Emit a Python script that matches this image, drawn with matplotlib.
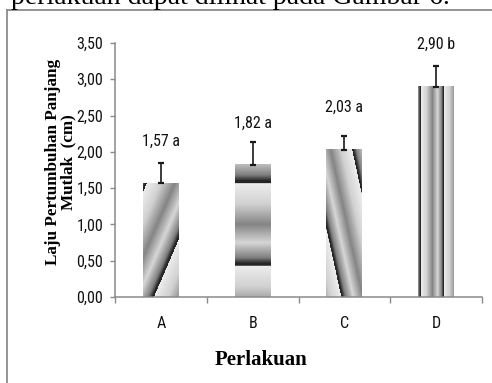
import numpy as np
import matplotlib
matplotlib.use('Agg')
import matplotlib.pyplot as plt
from matplotlib.lines import Line2D
from matplotlib.ticker import FuncFormatter

# data
perlakuan = ['A', 'B', 'C', 'D']
laju = [1.57, 1.82, 2.03, 2.90]
galat = [0.27, 0.31, 0.19, 0.28]
notasi = ['a', 'a', 'a', 'b']
y_ticks = [0.0, 0.5, 1.0, 1.5, 2.0, 2.5, 3.0, 3.5]

W, H = 492, 383
fig = plt.figure(figsize=(W / 100, H / 100), dpi=100)
ax = fig.add_axes([115 / W, 86 / H, 367 / W, 254 / H])

tick_font = ['Liberation Sans Narrow', 'Roboto Condensed', 'Liberation Sans']
serif_font = ['Liberation Serif', 'DejaVu Serif']

# gradient fill in the Excel "chrome" style
stops_t = [0.0, 0.25, 0.5, 0.72, 0.9, 0.97, 1.0]
stops_v = [0.93, 0.82, 0.52, 0.84, 0.5, 0.15, 0.15]
fills = [
    # kind, slope, line position (px), period (px)
    ('diag_r', 0.43, 4, 56),
    ('horiz', 0.0, 19, 82),
    ('diag_l', 0.22, 26, 43),
    ('vert', 0.0, 26, 23),
]

x = np.arange(len(perlakuan))
ax.set_xlim(-0.5, len(perlakuan) - 0.5)
ax.set_ylim(0, 3.5)
bars = ax.bar(x, laju, width=0.39, color='none', edgecolor='none', zorder=2)

for b, (kind, k, c0, per) in zip(bars, fills):
    left, right = b.get_x(), b.get_x() + b.get_width()
    h = b.get_height()
    (px0, py0), (px1, py1) = ax.transData.transform([(left, 0), (right, h)])
    nx, ny = max(int(round(px1 - px0)), 2), max(int(round(py1 - py0)), 2)
    xs, rs = np.meshgrid(np.arange(nx) + 0.5, np.arange(ny) + 0.5)
    if kind == 'diag_r':
        ph = ((xs + k * rs) - c0) / per
    elif kind == 'diag_l':
        ph = (c0 - (xs - k * rs)) / per
    elif kind == 'horiz':
        ph = (rs - c0) / per
    else:
        ph = (xs - c0) / per
    img = np.interp(np.mod(ph, 1.0), stops_t, stops_v)
    ax.imshow(img, cmap='gray', vmin=0, vmax=1, extent=(left, right, 0, h),
              origin='upper', aspect='auto', interpolation='bilinear', zorder=2)

ax.errorbar(x, laju, yerr=[np.zeros(len(galat)), galat], fmt='none',
            ecolor='#1a1a1a', elinewidth=1.2, capsize=2.3, capthick=1.6, zorder=3)

for xi, v, n in zip(x, laju, notasi):
    ax.annotate(f'{v:.2f}'.replace('.', ',') + ' ' + n, (xi, v),
                xytext=(0, 42), textcoords='offset pixels', ha='center', va='center',
                fontsize=11.5, family=tick_font, color='#111111')

ax.set_xlim(-0.5, len(perlakuan) - 0.5)
ax.set_ylim(0, 3.5)

for s in ['top', 'right']:
    ax.spines[s].set_visible(False)
for s in ['left', 'bottom']:
    ax.spines[s].set_color('#8a8a8a')
    ax.spines[s].set_linewidth(1.1)

ax.set_yticks(y_ticks)
ax.yaxis.set_major_formatter(FuncFormatter(lambda v, p: f'{v:.2f}'.replace('.', ',')))
ax.tick_params(axis='y', length=3.6, width=1.0, color='#8a8a8a', pad=5)
ax.set_xticks(x)
ax.set_xticklabels(perlakuan)
ax.set_xticks(np.arange(len(perlakuan) + 1) - 0.5, minor=True)
ax.tick_params(axis='x', which='major', length=0, pad=14)
ax.tick_params(axis='x', which='minor', length=4, width=1.0, color='#8a8a8a')
for lab in ax.get_xticklabels() + ax.get_yticklabels():
    lab.set_family(tick_font)
    lab.set_fontsize(11.5)
    lab.set_color('#111111')

fig.text(261 / W, 1 - 360 / H, 'Perlakuan', ha='center', va='center',
         fontsize=15, fontweight='bold', family=serif_font)
fig.text(61 / W, 1 - 162 / H, 'Laju Pertumbuhan Panjang\nMutlak  (cm)', rotation=90,
         ha='center', va='center', multialignment='center', linespacing=0.95,
         fontsize=12.3, fontweight='bold', family=serif_font)

# page text cut at the top of the screenshot and the frame around the chart
fig.text(450 / W, 1 - 4 / H, 'perlakuan dapat dilihat pada Gambar 6.', ha='right',
         va='baseline', fontsize=20, family=serif_font)
fig.add_artist(Line2D([6.5 / W, 6.5 / W], [0, 1 - 9.5 / H], transform=fig.transFigure,
                      color='#8c8c8c', lw=1.3))
fig.add_artist(Line2D([6.5 / W, 1], [1 - 9.5 / H, 1 - 9.5 / H], transform=fig.transFigure,
                      color='#8c8c8c', lw=1.3))

fig.savefig('out.png', dpi=100)
